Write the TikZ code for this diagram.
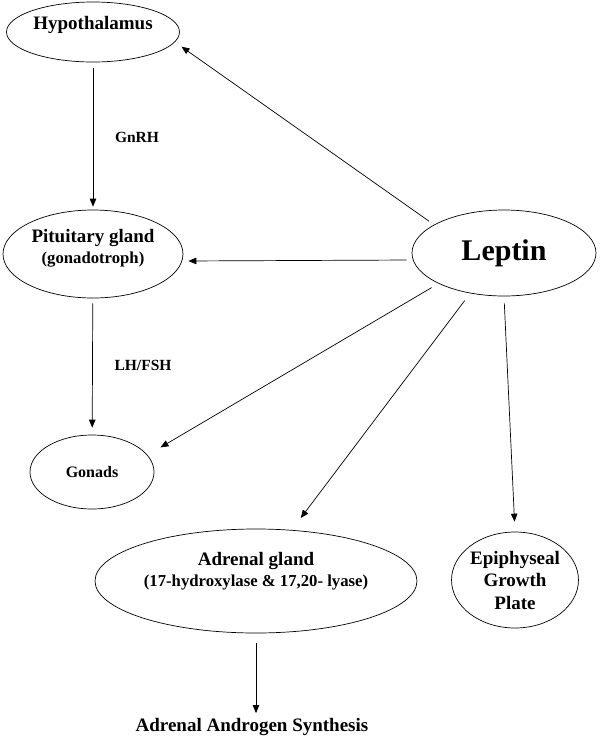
\documentclass[tikz,border=0pt]{standalone}
\usepackage{fontspec}
\setmainfont{Liberation Serif}
\usetikzlibrary{arrows.meta,positioning,shapes.geometric}
\tikzset{
  organ/.style = {ellipse, draw=black, line width=0.7pt, inner sep=0pt,
                  align=center, font=\bfseries\fontsize{19}{22.5}\selectfont},
  organtxt/.style = {align=center, inner sep=0pt,
                  font=\bfseries\fontsize{19}{21}\selectfont},
  lbl/.style   = {font=\bfseries\fontsize{15.5}{18}\selectfont},
  ar/.style    = {-{Triangle[length=8pt,width=6.5pt]}, draw=black, line width=0.7pt}
}
\newcommand{\subtxt}[1]{{\fontsize{16.7}{19}\selectfont #1}}

\begin{document}
\begin{tikzpicture}[x=1pt, y=-1pt]
    \useasboundingbox (0,0) rectangle (600,737);
    \node[organ, minimum width=173pt, minimum height=60pt,
          label={[organtxt, yshift=7pt]center:Hypothalamus}] (hyp) at (93,32) {};
    \node[organ, minimum width=180pt, minimum height=88pt,
          label={[organtxt, yshift=6pt]center:{Pituitary gland\\\subtxt{(gonadotroph)}}}] (pit) at (93,254) {};
    \node[organ, minimum width=184pt, minimum height=86pt,
          font=\bfseries\fontsize{30}{34}\selectfont] (lep) at (504,253) {Leptin};
    \node[organ, minimum width=124pt, minimum height=74pt,
          font=\bfseries\fontsize{16}{19}\selectfont] (gon) at (92,472) {Gonads};
    \node[organ, minimum width=322pt, minimum height=104pt,
          label={[organtxt, yshift=10pt]center:{Adrenal gland\\\subtxt{(17-hydroxylase \& 17,20- lyase)}}}] (adr) at (256,581) {};
    \node[organ, minimum width=126pt, minimum height=96pt] (epi) at (515,580) {Epiphyseal\\Growth\\Plate};
    \node[organtxt, inner sep=3pt] (syn) at (252,727) {Adrenal Androgen Synthesis};
    \node[lbl] (gnrh) at (137,137) {GnRH};
    \node[lbl] (lhfsh) at (143,365) {LH/FSH};
    \draw[ar, shorten <=6pt, shorten >=3pt] (hyp) -- (pit);
    \draw[ar, shorten <=5pt, shorten >=7pt] (pit) -- (gon);
    \draw[ar, shorten <=6pt, shorten >=8pt] (lep.158) -- (hyp.-7);
    \draw[ar, shorten <=5pt, shorten >=5pt] ([yshift=-7pt]lep.west) -- ([yshift=-7pt]pit.east);
    \draw[ar, shorten <=8pt, shorten >=15pt] (lep.205) -- (gon.17);
    \draw[ar, shorten <=9pt, shorten >=15pt] (lep.230) -- (adr.55);
    \draw[ar, shorten <=7pt, shorten >=10pt] (lep.south) -- (epi.north);
    \draw[ar, shorten <=10pt, shorten >=2pt] (adr) -- (adr |- syn.north);
  \end{tikzpicture}
\end{document}
